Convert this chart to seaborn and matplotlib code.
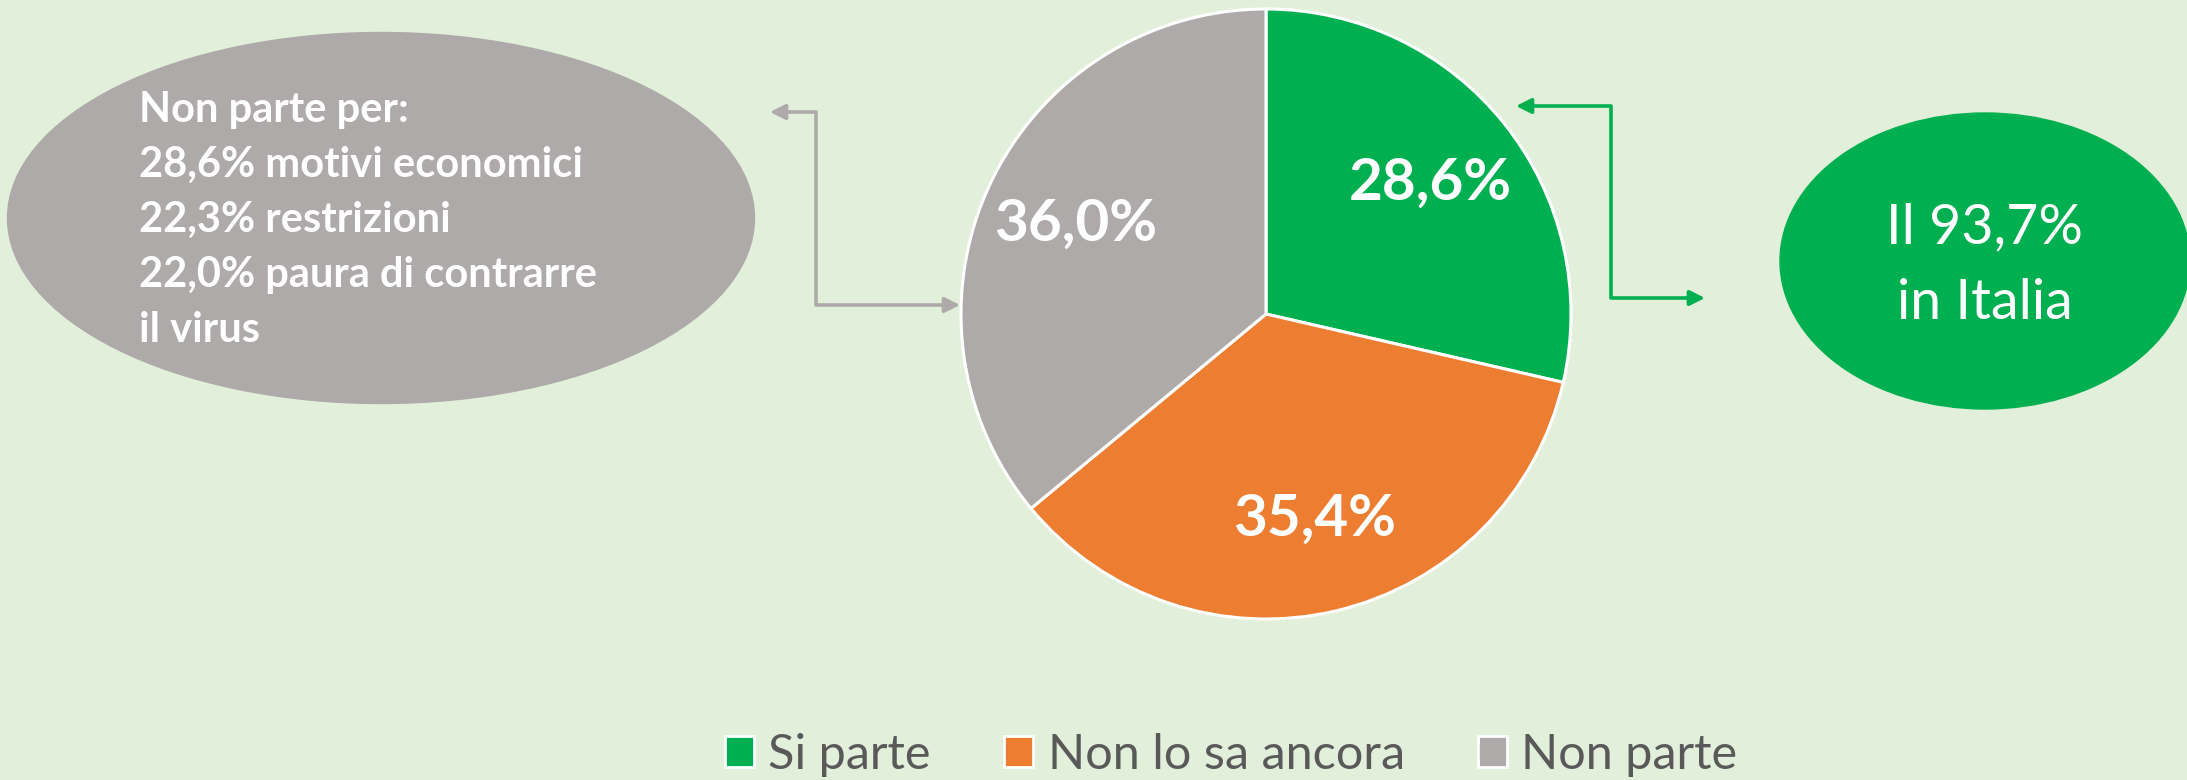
import matplotlib
matplotlib.use('Agg')
import matplotlib.pyplot as plt
from matplotlib.patches import Ellipse, FancyArrowPatch, Patch
from matplotlib.path import Path
import seaborn as sns

# data
categories = ['Si parte', 'Non lo sa ancora', 'Non parte']
values = [28.6, 35.4, 36.0]
reasons = ['motivi economici', 'restrizioni', 'paura di contrarre\nil virus']
reason_values = [28.6, 22.3, 22.0]
italia_share = 93.7


def fmt(v):
    return f'{v:.1f}'.replace('.', ',') + '%'


sns.set_theme(style='white')
plt.rcParams['font.family'] = ['Lato', 'DejaVu Sans']
colors = sns.color_palette(['#00B050', '#ED7D31', '#AEAAAA'])
bg = '#E2EFDA'

W, H = 2187, 780
fig = plt.figure(figsize=(W / 100, H / 100), dpi=100, facecolor=bg)
ax = fig.add_axes([0, 0, 1, 1])
ax.set_facecolor(bg)
ax.set_xlim(0, W)
ax.set_ylim(0, H)
ax.set_aspect('equal')
ax.axis('off')

# pie
wedges, _, autotexts = ax.pie(values, colors=colors, startangle=90, counterclock=False,
                              center=(1266, 466), radius=305, autopct=fmt, pctdistance=0.69,
                              wedgeprops=dict(edgecolor='white', linewidth=2.2),
                              textprops=dict(color='white', fontsize=42, fontweight='bold'))
ax.set_xlim(0, W)
ax.set_ylim(0, H)

# grey ellipse with reasons
ax.add_patch(Ellipse((381, 562), 747, 371, color=colors[2], zorder=1))
lines = ['Non parte per:'] + [f'{fmt(v)} {r}' for v, r in zip(reason_values, reasons)]
ax.text(139, 560, '\n'.join(lines), color='white', fontsize=30, fontweight='bold',
        ha='left', va='center', linespacing=1.55, zorder=3)

# green ellipse
ax.add_patch(Ellipse((1985, 519), 410, 296, color=colors[0], zorder=1))
ax.text(1985, 514, f'Il {fmt(italia_share)}\nin Italia', color='white', fontsize=40,
        ha='center', va='center', multialignment='center', linespacing=1.6, zorder=3)

# connectors
for verts, c in [([(770, 668), (816, 668), (816, 475), (960, 475)], colors[2]),
                 ([(1516, 674), (1611, 674), (1611, 482), (1705, 482)], colors[0])]:
    arr = FancyArrowPatch(path=Path(verts), arrowstyle='<|-|>,head_length=9,head_width=4.5',
                          color=c, linewidth=2.6, zorder=2)
    ax.add_patch(arr)

# legend
handles = [Patch(facecolor=c, edgecolor='white', linewidth=2) for c in colors]
leg = ax.legend(handles, categories, loc='center', bbox_to_anchor=(1231 / W, 25 / H),
                ncol=3, frameon=False, fontsize=35, handlelength=0.6, handleheight=0.6,
                handletextpad=0.3, columnspacing=1.5)
for t in leg.get_texts():
    t.set_color('#595959')

fig.savefig('out.png', dpi=100, facecolor=bg)
